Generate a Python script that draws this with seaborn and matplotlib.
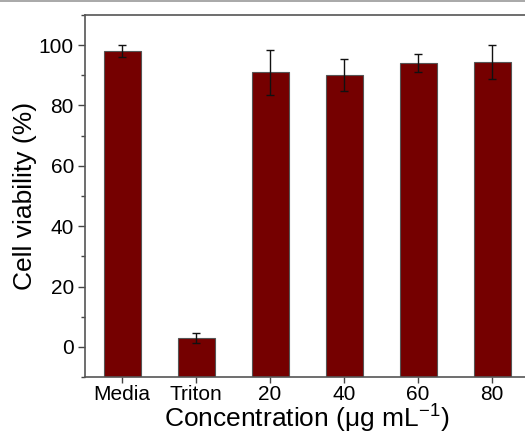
import matplotlib
matplotlib.use("Agg")
import matplotlib.pyplot as plt
from matplotlib.lines import Line2D
from matplotlib.ticker import MultipleLocator
import seaborn as sns
import pandas as pd

categories = ["Media", "Triton", "20", "40", "60", "80"]
viability = [98.0, 3.0, 91.0, 90.0, 94.0, 94.5]
errors = [2.0, 1.6, 7.5, 5.3, 3.0, 5.6]
baseline = -10

sns.set_style("white")
plt.rcParams['font.family'] = ['Liberation Sans', 'DejaVu Sans']
plt.rcParams['mathtext.fontset'] = 'custom'
plt.rcParams['mathtext.rm'] = 'Liberation Sans'
plt.rcParams['mathtext.it'] = 'Liberation Sans'
plt.rcParams['text.color'] = 'black'
plt.rcParams['axes.labelcolor'] = 'black'
plt.rcParams['xtick.labelcolor'] = 'black'
plt.rcParams['ytick.labelcolor'] = 'black'
plt.rcParams['xtick.bottom'] = True
plt.rcParams['ytick.left'] = True

# bars rise from the bottom of the axis (baseline), as in the original
df = pd.DataFrame({"cat": categories, "val": viability})
df["span"] = df["val"] - baseline

fig = plt.figure(figsize=(5.25, 4.34), dpi=100)
ax = fig.add_axes([85/525, 1 - 377/434, (525 - 85)/525, (377 - 15)/434])

sns.barplot(data=df, x="cat", y="span", order=categories, color="#750000",
            saturation=1, width=0.5, edgecolor="#555555", linewidth=0.8,
            errorbar=None, bottom=baseline, ax=ax)

ax.errorbar(range(len(categories)), viability, yerr=errors, fmt="none",
            ecolor="#111111", elinewidth=1.0, capsize=3.0, capthick=1.0, zorder=5)

ax.set_xlim(-0.5, -0.5 + (525 - 85) / 74)
ax.set_ylim(baseline, 110)
ax.yaxis.set_major_locator(MultipleLocator(20))
ax.yaxis.set_minor_locator(MultipleLocator(10))
ax.tick_params(axis="y", which="major", direction="out", length=5, width=1,
               labelsize=15, color="#444444", pad=3)
ax.tick_params(axis="y", which="minor", direction="out", length=3, width=1,
               color="#444444", left=True)
ax.tick_params(axis="x", which="major", direction="out", length=4, width=1,
               labelsize=15, color="#444444", pad=2)

for side in ["left", "bottom", "top"]:
    ax.spines[side].set_visible(True)
    ax.spines[side].set_color("#555555")
    ax.spines[side].set_linewidth(1.2)
ax.spines["right"].set_visible(False)

ax.set_xlabel(r"Concentration ($\mu$g mL$^{-1}$)", fontsize=19, va="baseline")
ax.xaxis.set_label_coords(307/525, 1 - 428/434, transform=fig.transFigure)
ax.set_ylabel("Cell viability (%)", fontsize=19, labelpad=1)

fig.add_artist(Line2D([0, 1], [0.998, 0.998], transform=fig.transFigure,
                      color="#999999", linewidth=1.2))

fig.savefig("out.png", dpi=100)
